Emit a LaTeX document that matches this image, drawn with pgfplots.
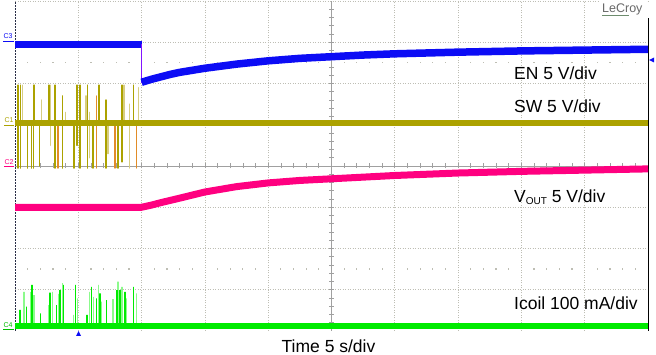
\documentclass[border=0pt]{standalone}
\usepackage{pgfplots}
\pgfplotsset{compat=1.18}
\usepackage{fontspec}
\setmainfont{Liberation Sans}
\definecolor{enblue}{RGB}{12,12,245}
\definecolor{enviolet}{RGB}{130,20,255}
\definecolor{swolive}{RGB}{172,162,0}
\definecolor{swlight}{RGB}{215,205,130}
\definecolor{sworange}{RGB}{225,140,40}
\definecolor{vpink}{RGB}{255,0,128}
\definecolor{igreen}{RGB}{0,235,0}
\definecolor{iglight}{RGB}{140,250,140}
\definecolor{gridc}{RGB}{190,190,180}
\definecolor{centc}{RGB}{160,160,160}
\definecolor{bordc}{RGB}{40,45,70}
\definecolor{lecroy}{RGB}{105,105,105}
\definecolor{lecroyline}{RGB}{110,140,110}
\begin{document}
\begin{tikzpicture}
\useasboundingbox (0,0) rectangle (656bp,355bp);
% ---- graticule (drawn behind the traces)
\foreach \i in {1,2,3,4,6,7,8,9}{
  \pgfmathsetmacro\xx{15+63.3*\i}
  \draw[gridc, line width=0.7bp, dash pattern=on 1.2bp off 1.3bp] (\xx bp,24bp) -- (\xx bp,354bp);
}
\foreach \j in {1,2,3,5,6,7,8}{
  \pgfmathsetmacro\yy{24+41.25*\j}
  \draw[gridc, line width=0.7bp, dash pattern=on 1.2bp off 1.3bp] (15bp,\yy bp) -- (648bp,\yy bp);
}
\draw[centc, line width=0.8bp] (331.5bp,24bp) -- (331.5bp,354bp);
\draw[centc, line width=0.8bp] (15bp,189bp) -- (648bp,189bp);
\foreach \k in {1,...,49}{
  \pgfmathsetmacro\xx{15+12.66*\k}
  \draw[centc, line width=0.7bp] (\xx bp,186.5bp) -- (\xx bp,191.5bp);
}
\foreach \k in {1,...,39}{
  \pgfmathsetmacro\yy{24+8.25*\k}
  \draw[centc, line width=0.7bp] (329bp,\yy bp) -- (334bp,\yy bp);
}
\foreach \k in {1,2,3,4,6,7,8,9,11,12,13,14,16,17,18,19,21,22,23,24,26,27,28,29,31,32,33,34,36,37,38,39,41,42,43,44,46,47,48,49}{
  \pgfmathsetmacro\xx{15+12.66*\k}
  \fill[gridc] (\xx bp-0.6bp,85.3bp) rectangle (\xx bp+0.6bp,86.5bp);
  \fill[gridc] (\xx bp-0.6bp,291.5bp) rectangle (\xx bp+0.6bp,292.7bp);
}
\draw[bordc, line width=1bp, dash pattern=on 2bp off 1bp] (15bp,24bp) -- (15bp,354bp);
\draw[black, line width=1bp] (648bp,24bp) -- (648bp,337bp);
% ---- traces
\begin{axis}[at={(15bp,24bp)}, anchor=south west, width=633bp, height=330bp,
  scale only axis, xmin=0, xmax=10, ymin=0, ymax=8,
  axis line style={draw=none}, ticks=none, clip=false]
% SW spikes (before the enable step)
\addplot[swlight, line width=1.3bp, line join=round] coordinates {
(0.12,5.04)(0.12,5.96)(0.12,5.04)
(0.42,5.04)(0.42,5.60)(0.42,5.04)
(0.56,5.04)(0.56,5.96)(0.56,4.50)(0.56,5.04)
(0.80,5.04)(0.80,5.30)(0.80,5.04)
(1.12,5.04)(1.12,5.70)(1.12,5.04)
(1.18,5.04)(1.18,5.30)(1.18,4.20)(1.18,5.04)
(1.47,5.04)(1.47,4.30)(1.47,5.04)
(1.72,5.04)(1.72,5.96)(1.72,5.04)
(1.81,5.04)(1.81,5.50)(1.81,3.95)(1.81,5.04)
(1.95,5.04)(1.95,5.90)(1.95,5.04)
};
\addplot[sworange, line width=1.2bp, line join=round] coordinates {
(0.68,5.04)(0.68,3.95)(0.68,5.04)
(1.29,5.04)(1.29,5.70)(1.29,3.95)(1.29,5.04)
(1.58,5.04)(1.58,3.95)(1.58,5.04)
(1.92,5.04)(1.92,3.95)(1.92,5.04)
};
\addplot[swolive, line width=1.4bp, line join=round] coordinates {
(0.05,5.04)(0.05,5.96)(0.05,3.95)(0.05,5.04)
(0.09,5.04)(0.09,5.96)(0.09,3.95)(0.09,5.04)
(0.20,5.04)(0.20,3.95)(0.20,5.04)
(0.26,5.04)(0.26,3.95)(0.26,5.04)
(0.29,5.04)(0.29,5.96)(0.29,3.95)(0.29,5.04)
(0.31,5.04)(0.31,5.96)(0.31,5.04)
(0.39,5.04)(0.39,4.00)(0.39,5.04)
(0.54,5.04)(0.54,5.96)(0.54,5.04)
(0.63,5.04)(0.63,5.96)(0.63,3.95)(0.63,5.04)
(0.75,5.04)(0.75,5.70)(0.75,3.95)(0.75,5.04)
(0.93,5.04)(0.93,3.95)(0.93,5.04)
(0.98,5.04)(0.98,5.96)(0.98,4.50)(0.98,5.04)
(1.03,5.04)(1.03,5.96)(1.03,3.95)(1.03,5.04)
(1.15,5.04)(1.15,5.96)(1.15,3.95)(1.15,5.04)
(1.23,5.04)(1.23,3.95)(1.23,5.04)
(1.33,5.04)(1.33,5.96)(1.33,5.04)
(1.44,5.04)(1.44,5.60)(1.44,3.95)(1.44,5.04)
(1.63,5.04)(1.63,3.95)(1.63,5.04)
(1.69,5.04)(1.69,5.96)(1.69,4.10)(1.69,5.04)
(1.87,5.04)(1.87,5.96)(1.87,5.04)
};
% SW baseline
\addplot[swolive, line width=6.5bp] coordinates {(0,5.04)(10,5.04)};
% EN
\addplot[enblue, line width=7.5bp] coordinates {(0,6.95)(2,6.95)};
\addplot[enviolet, line width=1bp] coordinates {(2,6.95)(2,6.02)};
\addplot[enblue, line width=7.5bp] coordinates {
(2,6.03)(2.15,6.10)(2.3,6.16)(2.45,6.22)(2.6,6.27)(2.8,6.32)(3,6.37)(3.25,6.42)(3.5,6.47)(4,6.55)(4.5,6.61)(5,6.65)(5.5,6.69)(6,6.72)(7,6.76)(8,6.79)(9,6.81)(10,6.83)};
% VOUT
\addplot[vpink, line width=7bp] coordinates {
(0,3.00)(2,3.00)(2.15,3.05)(2.3,3.11)(2.6,3.22)(3.0,3.37)(3.5,3.50)(4,3.59)(4.5,3.65)(5,3.69)(5.5,3.73)(6,3.77)(7,3.83)(8,3.87)(9,3.90)(10,3.93)};
% Icoil spikes
\addplot[iglight, line width=1.4bp] coordinates {
(0.14,0.11)(0.14,0.95)(0.14,0.11)
(0.25,0.11)(0.25,0.95)(0.25,0.11)
(0.30,0.11)(0.30,0.87)(0.30,0.11)
(0.53,0.11)(0.53,0.63)(0.53,0.11)
(0.59,0.11)(0.59,0.95)(0.59,0.11)
(0.69,0.11)(0.69,0.90)(0.69,0.11)
(0.75,0.11)(0.75,1.16)(0.75,0.11)
(0.92,0.11)(0.92,0.39)(0.92,0.11)
(0.99,0.11)(0.99,0.79)(0.99,0.11)
(1.18,0.11)(1.18,0.95)(1.18,0.11)
(1.24,0.11)(1.24,0.83)(1.24,0.11)
(1.32,0.11)(1.32,1.12)(1.32,0.11)
(1.37,0.11)(1.37,0.71)(1.37,0.11)
(1.55,0.11)(1.55,0.77)(1.55,0.11)
(1.63,0.11)(1.63,1.20)(1.63,0.11)
(1.69,0.11)(1.69,1.07)(1.69,0.11)
(1.76,0.11)(1.76,0.79)(1.76,0.11)
(1.92,0.11)(1.92,0.91)(1.92,0.11)
};
\addplot[igreen, line width=1.4bp] coordinates {
(0.08,0.11)(0.08,0.51)(0.08,0.11)
(0.18,0.11)(0.18,0.59)(0.18,0.11)
(0.27,0.11)(0.27,1.12)(0.27,0.11)
(0.40,0.11)(0.40,0.43)(0.40,0.11)
(0.55,0.11)(0.55,0.93)(0.55,0.11)
(0.66,0.11)(0.66,0.63)(0.66,0.11)
(0.71,0.11)(0.71,0.99)(0.71,0.11)
(0.77,0.11)(0.77,1.12)(0.77,0.11)
(0.96,0.11)(0.96,1.12)(0.96,0.11)
(1.14,0.11)(1.14,0.39)(1.14,0.11)
(1.21,0.11)(1.21,1.07)(1.21,0.11)
(1.29,0.11)(1.29,0.79)(1.29,0.11)
(1.34,0.11)(1.34,0.91)(1.34,0.11)
(1.45,0.11)(1.45,0.75)(1.45,0.11)
(1.61,0.11)(1.61,0.99)(1.61,0.11)
(1.66,0.11)(1.66,0.99)(1.66,0.11)
(1.74,0.11)(1.74,0.95)(1.74,0.11)
(1.87,0.11)(1.87,1.07)(1.87,0.11)
};
% Icoil baseline
\addplot[igreen, line width=6bp] coordinates {(0,0.11)(10,0.11)};
\end{axis}
% ---- annotations
\fontsize{17.5bp}{20bp}\selectfont
\node[anchor=base west, inner sep=0pt] at (514bp,275bp) {EN 5 V/div};
\node[anchor=base west, inner sep=0pt] at (514bp,242bp) {SW 5 V/div};
\node[anchor=base west, inner sep=0pt] at (514bp,152bp) {V\raisebox{-1.5bp}{\fontsize{10bp}{10bp}\selectfont OUT} 5 V/div};
\node[anchor=base west, inner sep=0pt] at (514bp,45bp) {Icoil 100 mA/div};
\node[anchor=base, inner sep=0pt] at (328.5bp,3bp) {Time 5 s/div};
% LeCroy logo
\fill[white] (599bp,338bp) rectangle (647bp,355bp);
\node[anchor=base west, inner sep=0pt, text=lecroy] at (602bp,342bp) {\fontsize{12.5bp}{13bp}\selectfont LeCroy};
\draw[lecroyline, line width=0.8bp] (602bp,340bp) -- (629bp,340bp);
% channel markers
\begin{scope}[every node/.style={inner sep=0pt, font=\fontsize{7bp}{7bp}\selectfont}]
\node[text=enblue] at (8bp,318.5bp) {C3};
\draw[enblue, line width=0.8bp] (3bp,314bp) -- (14bp,314bp);
\node[text=swolive] at (9bp,234.5bp) {C1};
\draw[swolive, line width=0.8bp] (4bp,230bp) -- (14bp,230bp);
\node[text=vpink] at (9bp,192.5bp) {C2};
\draw[vpink, line width=0.8bp] (4bp,188.5bp) -- (14bp,188.5bp);
\node[text=igreen!80!black] at (8bp,30bp) {C4};
\draw[igreen!80!black, line width=0.8bp] (3bp,25.5bp) -- (14bp,25.5bp);
\end{scope}
% trigger markers
\fill[enblue] (76bp,19bp) -- (81bp,19bp) -- (78.5bp,24bp) -- cycle;
\fill[enblue] (649bp,295bp) -- (654bp,292.5bp) -- (654bp,297.5bp) -- cycle;
\end{tikzpicture}
\end{document}
